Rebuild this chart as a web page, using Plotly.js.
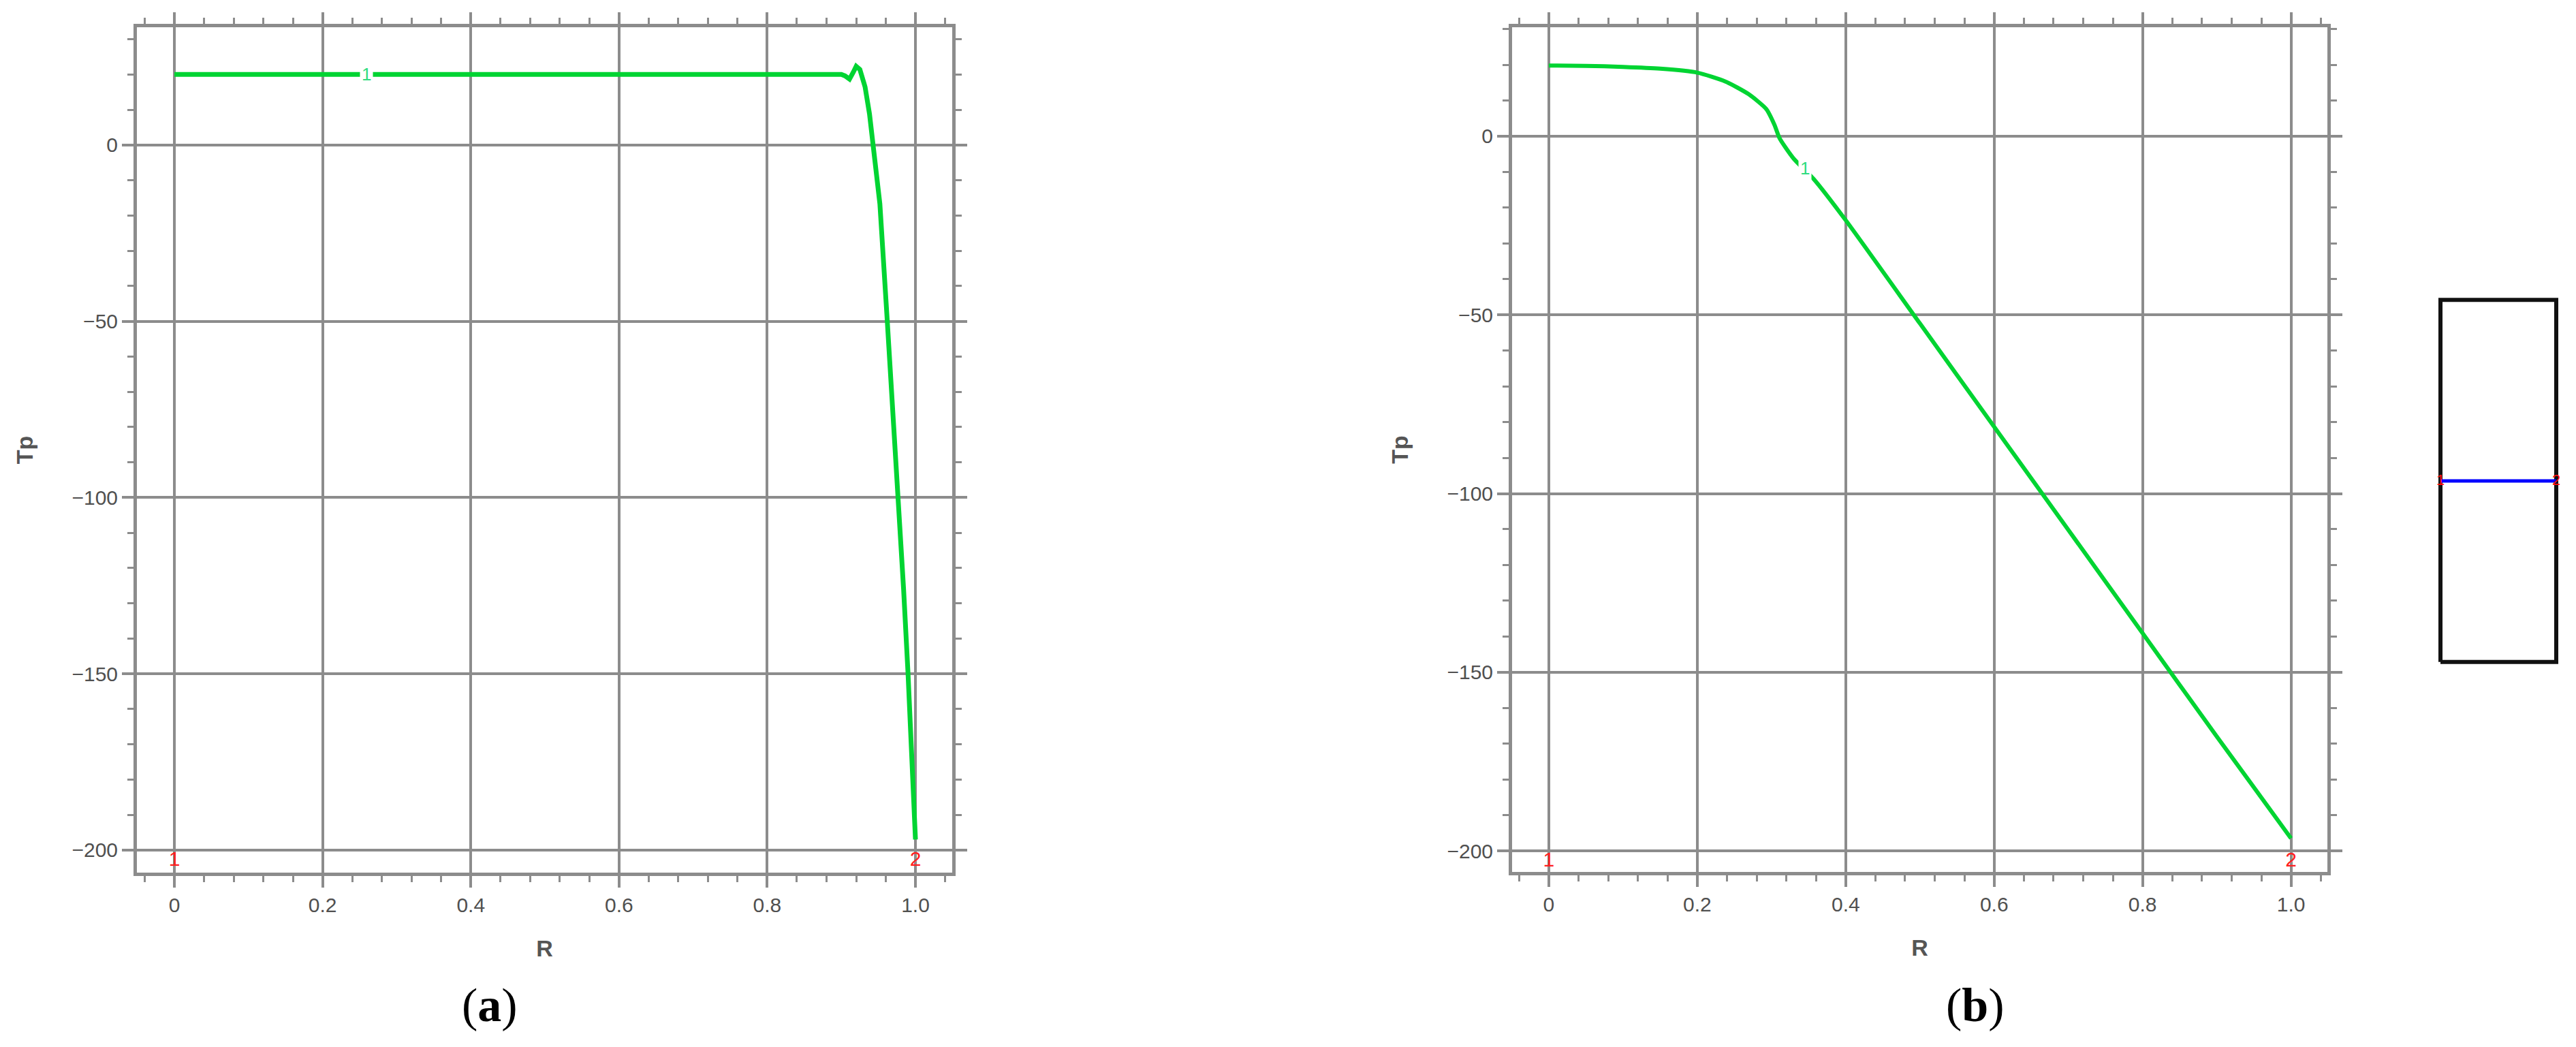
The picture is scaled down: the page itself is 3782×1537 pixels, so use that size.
<!DOCTYPE html>
<html><head><meta charset="utf-8">
<script src="https://cdn.plot.ly/plotly-3.0.1.min.js"></script>
<style>html,body{margin:0;padding:0;background:#fff}#chart{width:3782px;height:1537px}</style>
</head><body><div id="chart"></div>
<script>
// ---------------- data ----------------
// panel (a): Tp versus R
const rA  = [0, 0.1, 0.2, 0.3, 0.4, 0.5, 0.6, 0.7, 0.8, 0.85, 0.9, 0.905, 0.911, 0.916, 0.920, 0.925, 0.932, 0.938, 0.943, 0.952, 0.962, 0.970, 0.977, 0.984, 0.990, 0.995, 1.0];
const tpA = [20, 20, 20, 20, 20, 20, 20, 20, 20, 20, 20, 19.6, 18.7, 20.6, 22.3, 21.4, 16.5, 8.8, 0, -16.7, -50, -76, -100, -126, -150, -173, -197];
// panel (b): Tp versus R
const rB  = [0, 0.05, 0.1, 0.15, 0.2, 0.238, 0.269, 0.293, 0.304, 0.311, 0.33, 0.357, 0.4, 0.5, 0.6, 0.7, 0.8, 0.9, 1.0];
const tpB = [19.8, 19.7, 19.4, 18.9, 17.8, 15.3, 11.8, 7.6, 3.2, -0.6, -6.3, -12, -23.5, -52.4, -81.3, -110.2, -139.1, -168, -196.5];
// tick labels
const xTickVals = [0, 0.2, 0.4, 0.6, 0.8, 1.0];
const xTickText = ['0', '0.2', '0.4', '0.6', '0.8', '1.0'];
const yTickVals = [0, -50, -100, -150, -200];
const yTickText = ['0', '\u221250', '\u2212100', '\u2212150', '\u2212200'];
// curve labels ("1") on each curve
const curveLabelAX = [0.259], curveLabelAY = [20];
const curveLabelBX = [0.345], curveLabelBY = [-9];
// end-point labels along the R axis
const endX = [0, 1], endY = [-203, -203], endText = ['1', '2'];
// schematic: rectangle and cut line
const rectX = [0, 1, 1, 0, 0], rectY = [0, 0, 1, 1, 0];
const cutX = [0, 1], cutY = [0.5, 0.5], cutText = ['1', '2'];
// axis titles and captions
const xTitle = 'R', yTitle = 'Tp';
const captions = ['(<b>a</b>)', '(<b>b</b>)'];

// ---------------- layout helpers ----------------
const W = 3782, H = 1537;
const fx = v => v / W, fy = v => 1 - v / H;
const GRID = '#8c8c8c';
const GREEN = '#00d432';
const tickFont = {family: 'Liberation Sans, Arial, sans-serif', size: 30, color: '#505050'};
const titleFont = {family: 'Liberation Sans, Arial, sans-serif', size: 34, color: '#555555', weight: 'bold'};

function common() {
  return {
    ticks: 'outside', ticklen: 17, tickwidth: 4, tickcolor: GRID,
    showline: true, linecolor: GRID, linewidth: 5, mirror: 'allticks',
    showgrid: true, gridcolor: GRID, gridwidth: 4, zeroline: false,
    tickfont: tickFont, fixedrange: true, automargin: false
  };
}
function xAx(domain, range, anchor) {
  return Object.assign(common(), {
    domain, range, anchor, tickmode: 'array', tickvals: xTickVals, ticktext: xTickText,
    minor: {tickmode: 'linear', tick0: 0, dtick: 0.04, ticks: 'outside', ticklen: 9, tickwidth: 3, tickcolor: GRID, showgrid: false},
    title: {text: xTitle, font: titleFont, standoff: 38}
  });
}
function yAx(domain, range, anchor) {
  return Object.assign(common(), {
    domain, range, anchor, tickmode: 'array', tickvals: yTickVals, ticktext: yTickText,
    minor: {tickmode: 'linear', tick0: 0, dtick: 10, ticks: 'outside', ticklen: 9, tickwidth: 3, tickcolor: GRID, showgrid: false},
    title: {text: yTitle, font: titleFont, standoff: 48}
  });
}
const hidden = (domain, range) => ({domain, range, visible: false, fixedrange: true, showgrid: false, zeroline: false});

const traces = [
  {x: rA, y: tpA, xaxis: 'x', yaxis: 'y', mode: 'lines', line: {color: GREEN, width: 7}, hoverinfo: 'skip'},
  {x: rB, y: tpB, xaxis: 'x2', yaxis: 'y2', mode: 'lines', line: {color: GREEN, width: 6, shape: 'spline', smoothing: 0.6}, hoverinfo: 'skip'},
  {x: endX, y: endY, xaxis: 'x', yaxis: 'y', mode: 'text', text: endText, cliponaxis: false,
   textfont: {family: 'Liberation Sans Narrow, Liberation Sans, sans-serif', size: 30, color: '#ff2020'}, hoverinfo: 'skip'},
  {x: endX, y: endY, xaxis: 'x2', yaxis: 'y2', mode: 'text', text: endText, cliponaxis: false,
   textfont: {family: 'Liberation Sans Narrow, Liberation Sans, sans-serif', size: 30, color: '#ff2020'}, hoverinfo: 'skip'},
  {x: rectX, y: rectY, xaxis: 'x3', yaxis: 'y3', mode: 'lines', line: {color: '#111111', width: 6}, hoverinfo: 'skip'},
  {x: cutX, y: cutY, xaxis: 'x3', yaxis: 'y3', mode: 'lines', line: {color: '#0000ff', width: 5}, hoverinfo: 'skip'},
  {x: cutX, y: cutY, xaxis: 'x3', yaxis: 'y3', mode: 'text', text: cutText, cliponaxis: false,
   textfont: {family: 'Liberation Sans', size: 22, color: '#ff1010'}, hoverinfo: 'skip'}
];

const labelFont = {family: 'Liberation Sans Narrow, Liberation Sans, sans-serif', size: 26, color: '#30dc80'};
const annotations = [
  {xref: 'x', yref: 'y', x: curveLabelAX[0], y: curveLabelAY[0], text: '1', showarrow: false, font: labelFont, bgcolor: '#ffffff', borderpad: 2},
  {xref: 'x2', yref: 'y2', x: curveLabelBX[0], y: curveLabelBY[0], text: '1', showarrow: false, font: labelFont, bgcolor: '#ffffff', borderpad: 2},
  {xref: 'paper', yref: 'paper', x: fx(719), y: fy(1475), text: captions[0], showarrow: false, xanchor: 'center', yanchor: 'middle',
   font: {family: 'Liberation Serif, Times New Roman, serif', size: 70, color: '#000000'}},
  {xref: 'paper', yref: 'paper', x: fx(2900), y: fy(1475), text: captions[1], showarrow: false, xanchor: 'center', yanchor: 'middle',
   font: {family: 'Liberation Serif, Times New Roman, serif', size: 70, color: '#000000'}}
];

const layout = {
  width: W, height: H, margin: {l: 0, r: 0, t: 0, b: 0, pad: 0},
  paper_bgcolor: '#ffffff', plot_bgcolor: '#ffffff', showlegend: false,
  xaxis: xAx([fx(201), fx(1398)], [-0.0506, 1.0496], 'y'),
  yaxis: yAx([fy(1281), fy(40)], [-206.4, 33.4], 'x'),
  xaxis2: xAx([fx(2220), fx(3417)], [-0.0495, 1.049], 'y2'),
  yaxis2: yAx([fy(1280), fy(40)], [-205.9, 30.5], 'x2'),
  xaxis3: Object.assign(hidden([fx(3566), fx(3770)], [-0.1, 1.1]), {anchor: 'y3'}),
  yaxis3: Object.assign(hidden([fy(1025), fy(387)], [-0.1, 1.1]), {anchor: 'x3'}),
  annotations
};

Plotly.newPlot('chart', traces, layout, {displayModeBar: false, staticPlot: true});
</script>
</body></html>
